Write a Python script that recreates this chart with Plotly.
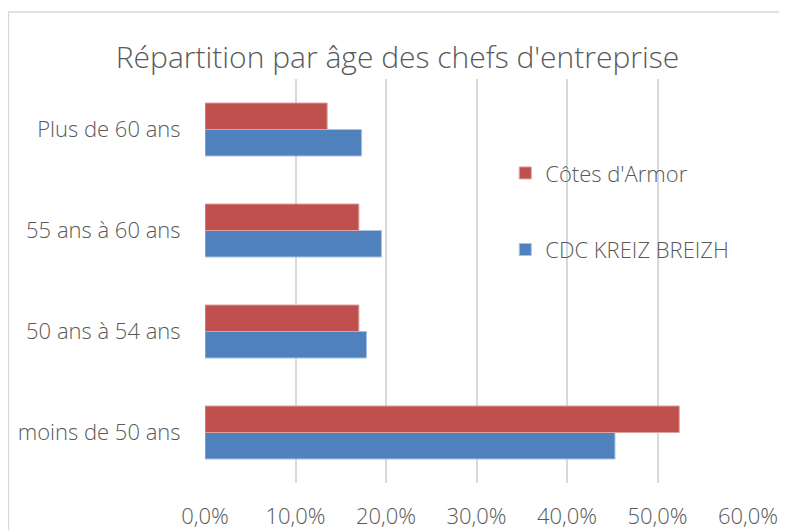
import plotly.graph_objects as go

# Données
categories = ["moins de 50 ans", "50 ans à 54 ans", "55 ans à 60 ans", "Plus de 60 ans"]
cdc_kreiz_breizh = [0.453, 0.1785, 0.195, 0.173]
cotes_armor = [0.524, 0.170, 0.170, 0.135]
x_ticks = [0, 0.1, 0.2, 0.3, 0.4, 0.5, 0.6]

GRIS = "#595959"
FONT = "Open Sans, DejaVu Sans, sans-serif"

fig = go.Figure()
fig.add_trace(go.Bar(
    name="CDC KREIZ BREIZH",
    y=categories, x=cdc_kreiz_breizh,
    orientation="h",
    marker=dict(color="#4f81bd", line=dict(color="#a8c1e4", width=1)),
    legendgroup="cdc", legendrank=2,
))
fig.add_trace(go.Bar(
    name="Côtes d'Armor",
    y=categories, x=cotes_armor,
    orientation="h",
    marker=dict(color="#c0504d", line=dict(color="#e0a09e", width=1)),
    legendgroup="cda", legendrank=1,
))

# cadre gris clair du graphique (coupé à droite et en bas)
fig.add_shape(type="rect", xref="paper", yref="paper",
              x0=-0.362, x1=1.2, y0=-0.3, y1=1.166,
              line=dict(color="#d9d9d9", width=1.5), layer="below")

# la page a une marge de 8 px : la figure commence en (8, 8)
fig.update_layout(
    width=779, height=522,
    barmode="group", bargap=0.475, bargroupgap=0,
    separators=", ",
    plot_bgcolor="white", paper_bgcolor="white",
    font=dict(family=FONT, color=GRIS, size=22, weight=300),
    margin=dict(l=197, r=39, t=71, b=47),
    title=dict(text="Répartition par âge des chefs d'entreprise",
               x=0.5, xanchor="center", y=0.906, yanchor="middle",
               font=dict(size=30, color=GRIS, family=FONT, weight=300)),
    xaxis=dict(range=[0, 0.6], tickvals=x_ticks, tickformat=".1%",
               showgrid=True, gridcolor="#d9d9d9", gridwidth=2,
               zeroline=False, showline=False, automargin=False,
               ticks="outside", ticklen=14, tickcolor="rgba(0,0,0,0)",
               tickfont=dict(size=22, color=GRIS, weight=300)),
    yaxis=dict(showgrid=False, zeroline=False, showline=False, automargin=False,
               ticks="outside", ticklen=19, tickcolor="rgba(0,0,0,0)",
               tickfont=dict(size=22, color=GRIS, weight=300)),
    legend=dict(x=0.553, y=0.819, xanchor="left", yanchor="top",
                traceorder="grouped", tracegroupgap=45,
                bgcolor="rgba(0,0,0,0)",
                font=dict(size=22, color=GRIS, weight=300)),
)

fig.write_html("out.html")
